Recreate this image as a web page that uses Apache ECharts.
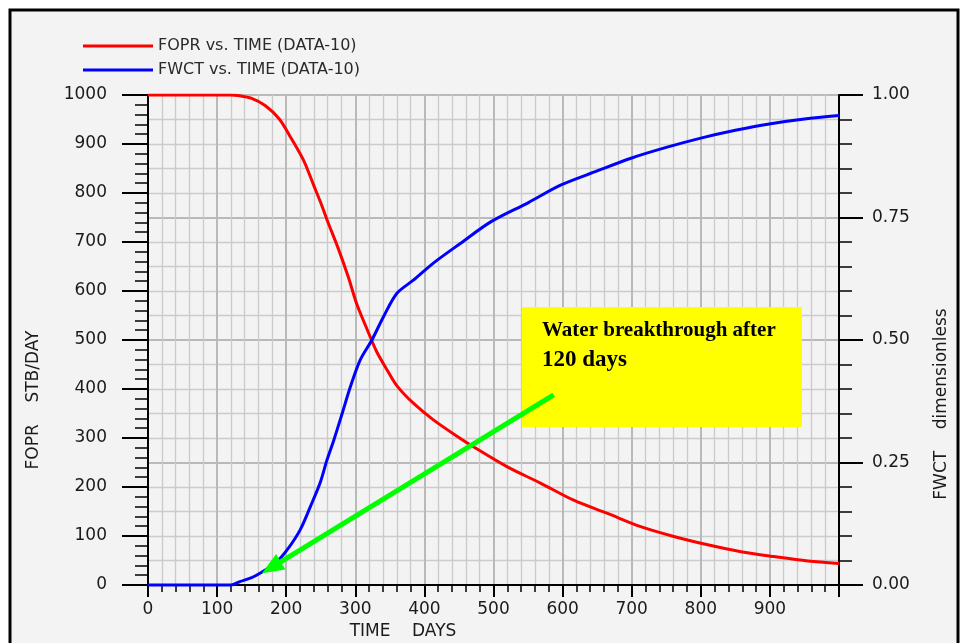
<!DOCTYPE html>
<html>
<head>
<meta charset="utf-8">
<script src="https://cdn.jsdelivr.net/npm/echarts@6/dist/echarts.min.js"></script>
<style>
  html, body { margin: 0; padding: 0; background: #ffffff; }
  #chart { width: 964px; height: 643px; }
</style>
</head>
<body>
<div id="chart"></div>
<script>
// Oil rate (FOPR, STB/DAY) and water cut (FWCT) against time in days
const foprDays = [0, 100, 120, 130, 150, 170, 190, 205, 225, 240, 250, 260, 275, 290, 302, 317, 331, 346, 360, 384, 413, 452, 471, 520, 568, 616, 665, 713, 761, 810, 858, 906, 955, 1000];
const foprRate = [1000, 1000, 1000, 999, 993, 978, 951, 917, 867, 815, 780, 742, 688, 628, 574, 522, 476, 439, 407, 371, 337, 299, 282, 241, 208, 173, 146, 119, 99, 82, 68, 58, 49, 44];

const fwctDays = [0, 100, 120, 133, 150, 162, 184, 201, 220, 235, 249, 259, 269, 281, 293, 307, 324, 341, 360, 384, 413, 452, 496, 550, 597, 650, 699, 750, 800, 850, 899, 950, 1000];
const fwctCut = [0, 0, 0, 0.007, 0.015, 0.024, 0.044, 0.071, 0.112, 0.16, 0.208, 0.255, 0.296, 0.35, 0.405, 0.459, 0.5, 0.548, 0.595, 0.622, 0.657, 0.697, 0.741, 0.78, 0.816, 0.845, 0.871, 0.893, 0.912, 0.928, 0.941, 0.951, 0.958];

const seriesNames = ['FOPR vs. TIME (DATA-10)', 'FWCT vs. TIME (DATA-10)'];
const axisTitles = { x: 'TIME    DAYS', left: 'FOPR    STB/DAY', right: 'FWCT    dimensionless' };
const noteLines = ['Water breakthrough after', '120 days'];
// arrow anchors in (days, water cut)
const arrowTail = [587, 0.388];
const arrowTip = [165, 0.024];

const pair = (xs, ys) => xs.map((x, i) => [x, ys[i]]);
const labelFont = { fontFamily: 'DejaVu Sans', fontSize: 17, color: '#1a1a1a' };
const titleFont = '17px "DejaVu Sans"';

const chart = echarts.init(document.getElementById('chart'), null, { renderer: 'canvas' });

const option = {
  animation: false,
  backgroundColor: '#ffffff',
  grid: { left: 148, right: 125, top: 95, bottom: 58, containLabel: false },
  legend: {
    orient: 'vertical',
    left: 83,
    top: 38,
    padding: 0,
    itemWidth: 70,
    itemHeight: 3,
    itemGap: 8,
    icon: 'rect',
    selectedMode: false,
    data: seriesNames,
    textStyle: { fontFamily: 'DejaVu Sans', fontSize: 16, color: '#2a2a2a' }
  },
  xAxis: {
    type: 'value',
    min: 0, max: 1000, interval: 100,
    axisLine: { show: true, onZero: false, lineStyle: { color: '#000', width: 2 } },
    axisTick: { show: true, length: 12, lineStyle: { color: '#000', width: 2 } },
    minorTick: { show: true, splitNumber: 5, length: 7, lineStyle: { color: '#000', width: 1.5 } },
    splitLine: { show: true, lineStyle: { color: '#b9b9b9', width: 2 } },
    minorSplitLine: { show: true, lineStyle: { color: '#cbcbcb', width: 1.3 } },
    axisLabel: Object.assign({ margin: 16, showMaxLabel: false, formatter: v => String(v) }, labelFont)
  },
  yAxis: [
    {
      type: 'value',
      position: 'left',
      min: 0, max: 1000, interval: 100,
      axisLine: { show: true, lineStyle: { color: '#000', width: 2 } },
      axisTick: { show: true, length: 26, lineStyle: { color: '#000', width: 2 } },
      minorTick: { show: true, splitNumber: 5, length: 13, lineStyle: { color: '#000', width: 1.5 } },
      splitLine: { show: false },
      axisLabel: Object.assign({ margin: 41, formatter: v => String(v) }, labelFont)
    },
    {
      type: 'value',
      position: 'right',
      min: 0, max: 1, interval: 0.25,
      axisLine: { show: true, lineStyle: { color: '#000', width: 2 } },
      axisTick: { show: true, length: 24, lineStyle: { color: '#000', width: 2 } },
      minorTick: { show: true, splitNumber: 5, length: 13, lineStyle: { color: '#000', width: 1.5 } },
      splitLine: { show: true, lineStyle: { color: '#b9b9b9', width: 2 } },
      minorSplitLine: { show: true, lineStyle: { color: '#cbcbcb', width: 1.3 } },
      axisLabel: Object.assign({ margin: 33, formatter: v => v.toFixed(2) }, labelFont)
    }
  ],
  series: [
    {
      name: seriesNames[0],
      type: 'line',
      yAxisIndex: 0,
      data: pair(foprDays, foprRate),
      showSymbol: false,
      smooth: 0.3,
      lineStyle: { color: '#ff0000', width: 3 },
      itemStyle: { color: '#ff0000' },
      z: 3
    },
    {
      name: seriesNames[1],
      type: 'line',
      yAxisIndex: 1,
      data: pair(fwctDays, fwctCut),
      showSymbol: false,
      smooth: 0.3,
      clip: false,
      lineStyle: { color: '#0000ff', width: 3 },
      itemStyle: { color: '#0000ff' },
      z: 3
    }
  ],
  graphic: [
    {
      id: 'frame', type: 'rect', z: -10, silent: true,
      shape: { x: 10, y: 10, width: 948, height: 645 },
      style: { fill: '#f3f3f3', stroke: '#000', lineWidth: 3 }
    },
    {
      id: 'leftTitle', type: 'text', x: 34, y: 400, rotation: Math.PI / 2, silent: true,
      style: { text: axisTitles.left, x: 0, y: 0, align: 'center', verticalAlign: 'middle', font: titleFont, fill: '#1a1a1a' }
    },
    {
      id: 'rightTitle', type: 'text', x: 942, y: 404, rotation: Math.PI / 2, silent: true,
      style: { text: axisTitles.right, x: 0, y: 0, align: 'center', verticalAlign: 'middle', font: titleFont, fill: '#1a1a1a' }
    },
    {
      id: 'xTitle', type: 'text', x: 403, y: 632, silent: true,
      style: { text: axisTitles.x, x: 0, y: 0, align: 'center', verticalAlign: 'middle', font: titleFont, fill: '#1a1a1a' }
    },
    {
      id: 'noteBox', type: 'rect', z: 20, silent: true,
      shape: { x: 522, y: 307, width: 280, height: 120 },
      style: { fill: '#ffff00' }
    },
    {
      id: 'noteLine1', type: 'text', z: 21, x: 542, y: 320, silent: true,
      style: { text: noteLines[0], x: 0, y: 0, align: 'left', verticalAlign: 'top', font: 'bold 21px "Liberation Serif"', fill: '#000' }
    },
    {
      id: 'noteLine2', type: 'text', z: 21, x: 542, y: 349, silent: true,
      style: { text: noteLines[1], x: 0, y: 0, align: 'left', verticalAlign: 'top', font: 'bold 23px "Liberation Serif"', fill: '#000' }
    }
  ]
};

chart.setOption(option);

// green arrow pointing at the first rise of the water cut
const finder = { xAxisIndex: 0, yAxisIndex: 1 };
const p0 = chart.convertToPixel(finder, arrowTail);
const p1 = chart.convertToPixel(finder, arrowTip);
const dx = p1[0] - p0[0], dy = p1[1] - p0[1];
const len = Math.sqrt(dx * dx + dy * dy);
const ux = dx / len, uy = dy / len;
const headLen = 22, headHalf = 9;
const bx = p1[0] - ux * headLen, by = p1[1] - uy * headLen;
chart.setOption({
  graphic: [
    {
      id: 'arrowShaft', type: 'line', z: 30, silent: true,
      shape: { x1: p0[0], y1: p0[1], x2: bx + ux * 2, y2: by + uy * 2 },
      style: { stroke: '#00ff00', lineWidth: 5 }
    },
    {
      id: 'arrowHead', type: 'polygon', z: 30, silent: true,
      shape: { points: [[p1[0], p1[1]], [bx - uy * headHalf, by + ux * headHalf], [bx + uy * headHalf, by - ux * headHalf]] },
      style: { fill: '#00ff00' }
    }
  ]
});
</script>
</body>
</html>
